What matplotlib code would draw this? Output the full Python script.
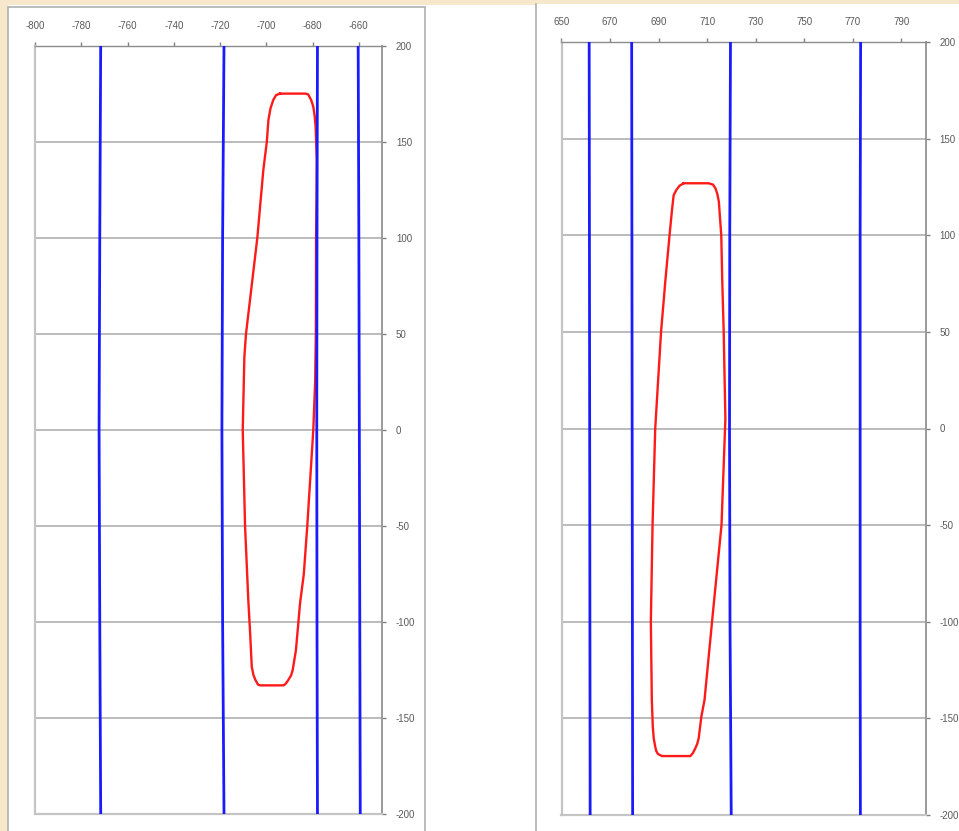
import numpy as np
import matplotlib.pyplot as plt
from matplotlib.patches import Rectangle
from matplotlib.lines import Line2D

plt.rcParams['font.family'] = ['Liberation Sans', 'DejaVu Sans']
plt.rcParams['axes.unicode_minus'] = False

W, H = 959, 831

# y stations where the field lines were sampled
line_y = [200, 100, 0, -100, -200]

# field lines, x at each station
left_lines = [
    [-771.6, -772.0, -772.3, -772.0, -771.6],
    [-718.3, -718.9, -719.2, -718.9, -718.3],
    [-677.9, -678.1, -678.2, -678.1, -677.9],
    [-660.3, -660.0, -659.8, -659.6, -659.4],
]
right_lines = [
    [661.4, 661.5, 661.6, 661.7, 661.8],
    [678.9, 679.0, 679.1, 679.2, 679.3],
    [719.6, 719.3, 719.2, 719.4, 719.9],
    [773.2, 773.0, 773.0, 773.0, 773.1],
]

# beam envelopes (closed outlines)
left_env_x = [-694.1, -683.0, -681.9, -680.6, -679.7, -679.1, -678.7, -678.2,
              -678.3, -678.5, -678.6, -678.9, -679.7, -681.0, -682.3, -683.8,
              -685.4, -687.2, -688.6, -689.3, -690.6, -691.8, -692.6, -702.7,
              -703.6, -704.8, -705.6, -706.3, -707.0, -707.8, -709.2, -710.2,
              -709.5, -708.8, -703.9, -701.3, -699.8, -699.1, -698.2, -697.0,
              -695.8, -694.1]
left_env_y = [175.2, 175.2, 174.8, 171.8, 168.4, 163.5, 158.0, 140.6,
              120.0, 100.0, 50.0, 25.0, 0.0, -25.0, -50.0, -75.0,
              -90.0, -114.6, -125.0, -127.8, -130.4, -132.4, -133.0, -133.0,
              -132.6, -130.0, -127.5, -123.3, -105.9, -88.5, -50.0, 0.0,
              38.0, 50.0, 100.0, 135.4, 150.0, 161.5, 167.5, 171.9,
              174.4, 175.2]

right_env_x = [700.3, 710.6, 712.4, 713.4, 714.2, 714.8, 715.8, 716.2,
               716.8, 717.5, 715.9, 712.0, 708.9, 707.6, 706.5, 705.9,
               705.1, 704.2, 703.1, 691.4, 689.7, 689.0, 688.6, 688.0,
               687.6, 687.2, 686.8, 687.5, 688.6, 691.0, 692.8, 694.5,
               695.5, 696.2, 697.3, 698.6, 700.3]
right_env_y = [126.9, 126.9, 126.2, 124.3, 121.3, 117.4, 100.0, 76.8,
               50.0, 5.0, -50.0, -100.0, -140.5, -149.1, -160.3, -163.2,
               -165.5, -167.8, -169.5, -169.5, -168.4, -166.8, -164.6, -160.5,
               -154.3, -140.5, -100.0, -50.0, 0.0, 50.0, 76.8, 100.0,
               113.0, 120.8, 123.4, 125.6, 126.9]

left_xticks = [-800, -780, -760, -740, -720, -700, -680, -660]
right_xticks = [650, 670, 690, 710, 730, 750, 770, 790]
yticks = [200, 150, 100, 50, 0, -50, -100, -150, -200]


def px_box(x0, y0, x1, y1):
    # pixel box (top-left origin) -> figure fraction rect
    return [x0 / W, 1 - y1 / H, (x1 - x0) / W, (y1 - y0) / H]


def style_axes(ax, xlim, xticks):
    ax.set_zorder(5)
    ax.set_facecolor('none')
    ax.set_xlim(xlim)
    ax.set_ylim(-200, 200)
    ax.set_xticks(xticks)
    ax.set_yticks(yticks)
    ax.xaxis.tick_top()
    ax.yaxis.tick_right()
    ax.tick_params(axis='both', direction='out', length=3, width=1,
                   color='#808080', labelsize=7, labelcolor='#5a5a5a')
    ax.tick_params(axis='x', pad=8)
    ax.tick_params(axis='y', pad=7)
    ax.grid(axis='y', color='#a8a8a8', lw=1.1)
    ax.set_axisbelow(True)
    for side in ['left', 'bottom']:
        ax.spines[side].set_color('#c4c4c4')
        ax.spines[side].set_linewidth(1.6)
    ax.spines['top'].set_color('#8c8c8c')
    ax.spines['top'].set_linewidth(1.0)
    ax.spines['right'].set_color('#9a9a9a')
    ax.spines['right'].set_linewidth(1.4)


fig = plt.figure(figsize=(W / 100, H / 100), dpi=100, facecolor='#f7e8cb')

# white panels behind the two charts
fig.patches.append(Rectangle((8 / W, 0), (536 - 8) / W, 1 - 5 / H,
                             transform=fig.transFigure, facecolor='white',
                             edgecolor='none', zorder=-2))
fig.patches.append(Rectangle((536 / W, 0), (W - 536) / W, 1 - 4 / H,
                             transform=fig.transFigure, facecolor='white',
                             edgecolor='none', zorder=-2))
fig.patches.append(Rectangle((8 / W, -0.01), (425 - 8) / W, 1.01 - 7 / H,
                             transform=fig.transFigure, facecolor='none',
                             edgecolor='#b0b0b0', lw=1.2, zorder=-1))
fig.lines.append(Line2D([536 / W, 536 / W], [0, 1 - 4 / H],
                        transform=fig.transFigure, color='#b0b0b0', lw=1.2,
                        zorder=-1))

ax1 = fig.add_axes(px_box(35, 46, 382, 814))
ax2 = fig.add_axes(px_box(561.5, 42, 925.7, 815))

style_axes(ax1, (-800, -650), left_xticks)
style_axes(ax2, (650, 800), right_xticks)

ax1.plot(left_env_x, left_env_y, color='#ff1a1a', lw=1.7,
         solid_joinstyle='round', zorder=2)
ax2.plot(right_env_x, right_env_y, color='#ff1a1a', lw=1.7,
         solid_joinstyle='round', zorder=2)

for xs in left_lines:
    ax1.plot(xs, line_y, color='#1a1aff', lw=2.0, zorder=3)
for xs in right_lines:
    ax2.plot(xs, line_y, color='#1a1aff', lw=2.0, zorder=3)

fig.savefig('out.png', dpi=100, facecolor=fig.get_facecolor())
